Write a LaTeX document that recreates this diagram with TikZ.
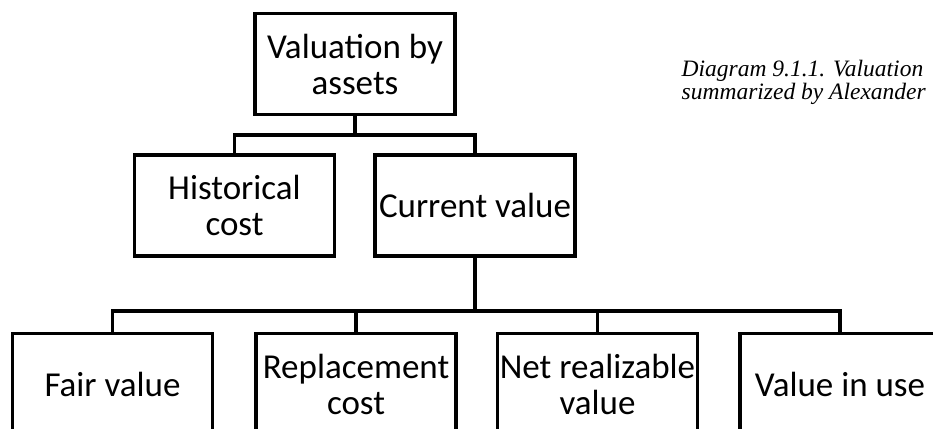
\documentclass[tikz,border=0pt]{standalone}
\usepackage{fontspec}
\setmainfont{Carlito}
\newfontfamily\captfont{Liberation Serif}
\usepackage{tikz}

\begin{document}
\begin{tikzpicture}[x=1pt, y=-1pt, line width=3.4pt,
  box/.style={rectangle, draw, line width=3.6pt, minimum width=200pt, minimum height=101pt, inner sep=0pt, align=center, font=\fontsize{35}{36}\selectfont}]
  \clip (0,0) rectangle (933,428);
  \node [box] (top) at (355, 64) {Valuation by\\assets};
  \node [box] (hist) at (234.5, 205.5) {Historical\\cost};
  \node [box] (curr) at (475, 205.5) {Current value};
  \node [box] (fair) at (112.5, 384) {Fair value};
  \node [box] (repl) at (356, 384) {Replacement\\cost};
  \node [box] (net) at (597.5, 384) {Net realizable\\value};
  \node [box] (use) at (840, 384) {Value in use};
  \coordinate (j1) at (355, 135);
  \coordinate (j2) at (475, 311);
  \draw (top.south) -- (j1) -| (hist.north);
  \draw (j1) -| (curr.north);
  \draw (curr.south) -- (j2) -| (fair.north);
  \draw (j2) -| (repl.north);
  \draw (j2) -| (net.north);
  \draw (j2) -| (use.north);
  \node [anchor=base west, inner sep=0pt, align=left, font=\captfont\itshape\fontsize{23.5}{23}\selectfont] (capt) at (680, 99) {Diagram 9.1.1. Valuation\\summarized by Alexander};
\end{tikzpicture}
\end{document}
